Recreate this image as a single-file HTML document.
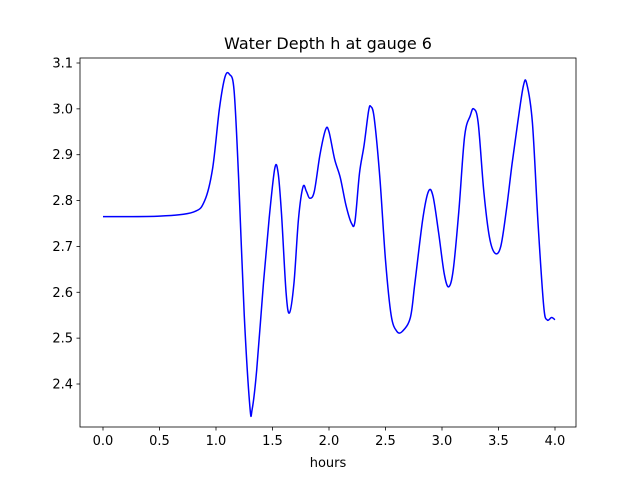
<!DOCTYPE html>
<html><head><meta charset="utf-8"><style>
html,body{margin:0;padding:0;background:#fff}
svg text{font-family:"DejaVu Sans","Liberation Sans",sans-serif;fill:#000}
</style></head><body>
<svg width="640" height="480" viewBox="0 0 640 480">
<rect x="0" y="0" width="640" height="480" fill="#fff"/>
<g id="axes"></g>
<path id="line" fill="none" stroke="#0000ff" stroke-width="1.5"/>
<rect x="80" y="58" width="496" height="369" fill="none" stroke="#000" stroke-width="0.8"/>
<text x="328" y="49" text-anchor="middle" font-size="16">Water Depth h at gauge 6</text>
<text x="328" y="467" text-anchor="middle" font-size="13">hours</text>
</svg>
<script>
const xTicks=[0,0.5,1,1.5,2,2.5,3,3.5,4];
const xTickLabels=["0.0","0.5","1.0","1.5","2.0","2.5","3.0","3.5","4.0"];
const yTicks=[2.4,2.5,2.6,2.7,2.8,2.9,3.0,3.1];
const yTickLabels=["2.4","2.5","2.6","2.7","2.8","2.9","3.0","3.1"];
const hours=[0,0.5,0.8,0.9,0.97,1.03,1.08,1.12,1.16,1.2,1.25,1.3,1.32,1.36,1.42,1.47,1.52,1.55,1.58,1.62,1.65,1.69,1.73,1.77,1.8,1.83,1.87,1.92,1.97,2.0,2.05,2.1,2.15,2.2,2.23,2.27,2.31,2.35,2.37,2.4,2.45,2.5,2.55,2.6,2.65,2.72,2.76,2.83,2.88,2.92,2.97,3.02,3.06,3.1,3.15,3.2,3.25,3.28,3.32,3.37,3.42,3.47,3.52,3.57,3.62,3.67,3.72,3.75,3.8,3.85,3.9,3.93,3.97,4.0];
const depth=[2.765,2.766,2.775,2.8,2.87,3.0,3.07,3.075,3.04,2.85,2.55,2.35,2.345,2.43,2.62,2.76,2.87,2.86,2.77,2.6,2.555,2.62,2.76,2.83,2.82,2.805,2.82,2.9,2.955,2.95,2.89,2.85,2.79,2.75,2.755,2.86,2.92,2.995,3.005,2.98,2.85,2.67,2.55,2.515,2.515,2.545,2.62,2.76,2.82,2.81,2.73,2.64,2.612,2.65,2.78,2.94,2.985,3.0,2.97,2.82,2.72,2.685,2.7,2.78,2.88,2.97,3.05,3.055,2.97,2.75,2.57,2.54,2.545,2.54];
const X=v=>103+v*113;
const Y=v=>384-(v-2.4)*(321/0.7);
const NS="http://www.w3.org/2000/svg";
const ax=document.getElementById('axes');
function mk(tag,attrs){const e=document.createElementNS(NS,tag);for(const k in attrs)e.setAttribute(k,attrs[k]);ax.appendChild(e);return e;}
xTicks.forEach((t,i)=>{
  const l=mk('line',{x1:X(t),x2:X(t),y1:427,y2:430.5,stroke:'#000','stroke-width':0.8});
  
  
  const tx=mk('text',{x:X(t),y:445,'text-anchor':'middle','font-size':13});
  tx.textContent=xTickLabels[i];
  
  
});
yTicks.forEach((t,i)=>{
  const l=mk('line',{x1:76.5,x2:80,y1:Y(t),y2:Y(t),stroke:'#000','stroke-width':0.8});
  
  
  const tx=mk('text',{x:73,y:Y(t)+4.5,'text-anchor':'end','font-size':13});
  tx.textContent=yTickLabels[i];
  
  
});
const P=hours.map((h,i)=>[X(h),Y(depth[i])]);
let d=`M${P[0][0]},${P[0][1]}`;
for(let i=0;i<P.length-1;i++){
  const p0=P[Math.max(0,i-1)],p1=P[i],p2=P[i+1],p3=P[Math.min(P.length-1,i+2)];
  const c1=[p1[0]+(p2[0]-p0[0])/6,p1[1]+(p2[1]-p0[1])/6];
  const c2=[p2[0]-(p3[0]-p1[0])/6,p2[1]-(p3[1]-p1[1])/6];
  d+=` C${c1[0]},${c1[1]} ${c2[0]},${c2[1]} ${p2[0]},${p2[1]}`;
}
document.getElementById('line').setAttribute('d',d);
</script>
</body></html>
